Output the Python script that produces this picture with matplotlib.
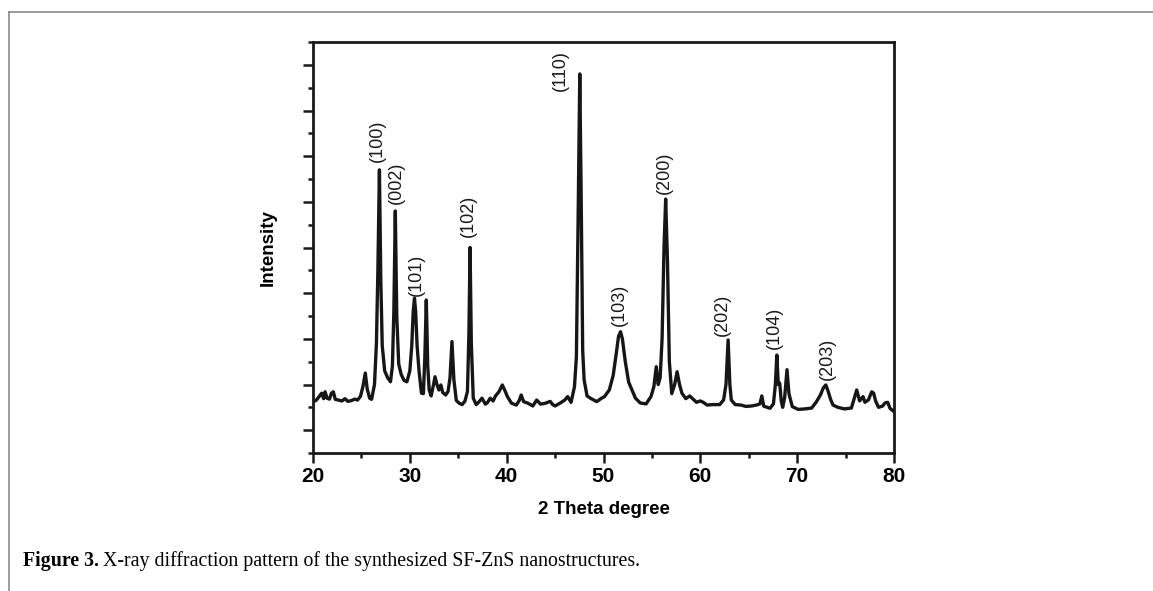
import matplotlib
matplotlib.use("Agg")
import matplotlib.pyplot as plt
from matplotlib.lines import Line2D
from matplotlib.ticker import MultipleLocator

# ---- data (2 theta in degrees, intensity in a.u.) ----
two_theta = [
    20.0, 20.3, 20.6, 20.9, 21.1, 21.25, 21.45, 21.7, 21.9, 22.1, 22.3, 22.6, 23.0, 23.3, 23.6,
    24.0, 24.3, 24.6, 24.9, 25.15, 25.4, 25.6, 25.85, 26.05, 26.35, 26.55, 26.7, 26.86, 27.0,
    27.15, 27.4, 27.7, 28.0, 28.2, 28.35, 28.5, 28.65, 28.85, 29.1, 29.4, 29.7, 30.0, 30.2,
    30.35, 30.48, 30.6, 30.75, 30.95, 31.2, 31.4, 31.55, 31.7, 31.85, 32.0, 32.2, 32.45, 32.6,
    32.8, 33.0, 33.2, 33.4, 33.7, 33.95, 34.15, 34.35, 34.55, 34.8, 35.1, 35.4, 35.7, 35.95,
    36.1, 36.22, 36.35, 36.55, 36.85, 37.1, 37.45, 37.8, 38.0, 38.3, 38.6, 38.85, 39.2, 39.55,
    39.8, 40.1, 40.5, 41.0, 41.3, 41.5, 41.75, 42.2, 42.7, 43.1, 43.5, 44.0, 44.5, 44.75, 45.0,
    45.5, 46.0, 46.3, 46.65, 47.0, 47.2, 47.4, 47.55, 47.7, 47.85, 48.0, 48.3, 48.65, 49.0,
    49.3, 49.8, 50.1, 50.6, 51.0, 51.3, 51.55, 51.76, 51.95, 52.25, 52.6, 52.9, 53.3, 53.8,
    54.4, 54.9, 55.2, 55.45, 55.65, 55.85, 56.05, 56.25, 56.42, 56.6, 56.8, 57.05, 57.35,
    57.6, 57.85, 58.1, 58.5, 58.9, 59.2, 59.6, 60.0, 60.3, 60.7, 61.3, 62.0, 62.4, 62.65,
    62.87, 63.05, 63.2, 63.6, 64.2, 64.7, 65.3, 65.8, 66.15, 66.35, 66.55, 66.9, 67.2, 67.55,
    67.75, 67.9, 68.05, 68.2, 68.35, 68.5, 68.7, 68.95, 69.15, 69.5, 70.1, 70.8, 71.5, 72.0,
    72.4, 72.7, 72.96, 73.2, 73.45, 73.7, 74.2, 74.9, 75.6, 75.9, 76.15, 76.45, 76.8, 77.0,
    77.35, 77.7, 77.9, 78.1, 78.4, 78.8, 79.1, 79.35, 79.6, 80.0,
]
intensity = [
    225, 230, 245, 262, 238, 268, 240, 236, 262, 268, 235, 232, 228, 238, 226,
    230, 236, 232, 248, 290, 350, 280, 240, 235, 300, 480, 800, 1240, 760,
    470, 360, 330, 312, 380, 620, 1060, 600, 390, 345, 318, 312, 360, 470,
    620, 678, 620, 470, 360, 262, 260, 420, 670, 380, 276, 250, 300, 334,
    300, 276, 298, 265, 254, 270, 330, 488, 320, 230, 218, 212, 228, 270,
    520, 900, 480, 240, 212, 222, 240, 214, 220, 240, 228, 250, 268, 298,
    275, 245, 218, 210, 230, 254, 225, 218, 206, 232, 214, 218, 226, 212, 206,
    218, 232, 247, 222, 290, 420, 1100, 1660, 1100, 450, 320, 250, 240, 232,
    225, 240, 247, 276, 340, 430, 510, 531, 500, 400, 310, 280, 240, 219,
    215, 247, 290, 378, 300, 330, 500, 900, 1112, 850, 400, 260, 300,
    356, 300, 262, 238, 250, 238, 222, 228, 222, 210, 212, 212, 232, 300,
    495, 300, 232, 212, 210, 204, 206, 210, 215, 250, 205, 200, 196, 215,
    300, 429, 300, 306, 230, 200, 240, 365, 260, 203, 191, 193, 197, 225,
    254, 285, 298, 270, 235, 210, 200, 193, 197, 240, 276, 228, 247, 222,
    232, 268, 262, 228, 200, 205, 220, 222, 195, 181,
]

peak_labels = ["(100)", "(002)", "(101)", "(102)", "(110)",
               "(103)", "(200)", "(202)", "(104)", "(203)"]
label_x = [26.61, 28.64, 30.71, 36.0, 45.51, 51.6, 56.25, 62.24, 67.61, 73.08]
label_y = [1367, 1183, 780, 1038, 1673, 648, 1226, 604, 548, 412]

x_ticks = [20, 30, 40, 50, 60, 70, 80]

# ---- figure ----
W, H = 1153, 591
fig = plt.figure(figsize=(W / 100, H / 100), dpi=100)
sans = ["Liberation Sans", "DejaVu Sans"]
serif = ["Liberation Serif", "DejaVu Serif"]

# page frame lines (top and left)
fig.add_artist(Line2D([9 / W, 1.0], [1 - 12 / H, 1 - 12 / H], transform=fig.transFigure,
                      color="#8a8a8a", lw=1.2))
fig.add_artist(Line2D([9 / W, 9 / W], [0.0, 1 - 12 / H], transform=fig.transFigure,
                      color="#8a8a8a", lw=1.2))

ax = fig.add_axes([313 / W, 1 - 453 / H, (894 - 313) / W, (453 - 42) / H])
ax.plot(two_theta, intensity, color="#161616", lw=2.4, solid_joinstyle="round")

ax.set_xlim(20, 80)
ax.set_ylim(0, 1800)
ax.set_xticks(x_ticks)
ax.xaxis.set_minor_locator(MultipleLocator(5))
ax.set_yticks(list(range(100, 1800, 200)))
ax.set_yticks(list(range(0, 1801, 200)), minor=True)
ax.set_yticklabels([])
ax.set_xticklabels([str(v) for v in x_ticks], fontsize=15, fontweight="bold", family=sans)

for s in ax.spines.values():
    s.set_linewidth(2.0)
    s.set_color("#1a1a1a")
ax.tick_params(axis="both", which="major", direction="out", length=7, width=1.8,
               color="#1a1a1a", pad=3)
ax.tick_params(axis="both", which="minor", direction="out", length=3.6, width=1.8,
               color="#1a1a1a")

ax.set_xlabel("2 Theta degree", fontsize=13.5, fontweight="bold", family=sans, labelpad=11)
ax.set_ylabel("Intensity", fontsize=13.5, fontweight="bold", family=sans, labelpad=16)

for lab, lx, ly in zip(peak_labels, label_x, label_y):
    ax.text(lx, ly, lab, rotation=90, ha="center", va="center", fontsize=13,
            family=sans, color="#1a1a1a")

# caption
fig.canvas.draw()
r = fig.canvas.get_renderer()
cy = 1 - 561 / H
t1 = fig.text(23 / W, cy, "Figure 3.", fontsize=14.3, fontweight="bold", family=serif,
              va="center", ha="left")
bb = t1.get_window_extent(renderer=r)
fig.text(bb.x1 / W + 4 / W, cy,
         "X-ray diffraction pattern of the synthesized SF-ZnS nanostructures.",
         fontsize=14.3, family=serif, va="center", ha="left")

fig.savefig("out.png", dpi=100)
